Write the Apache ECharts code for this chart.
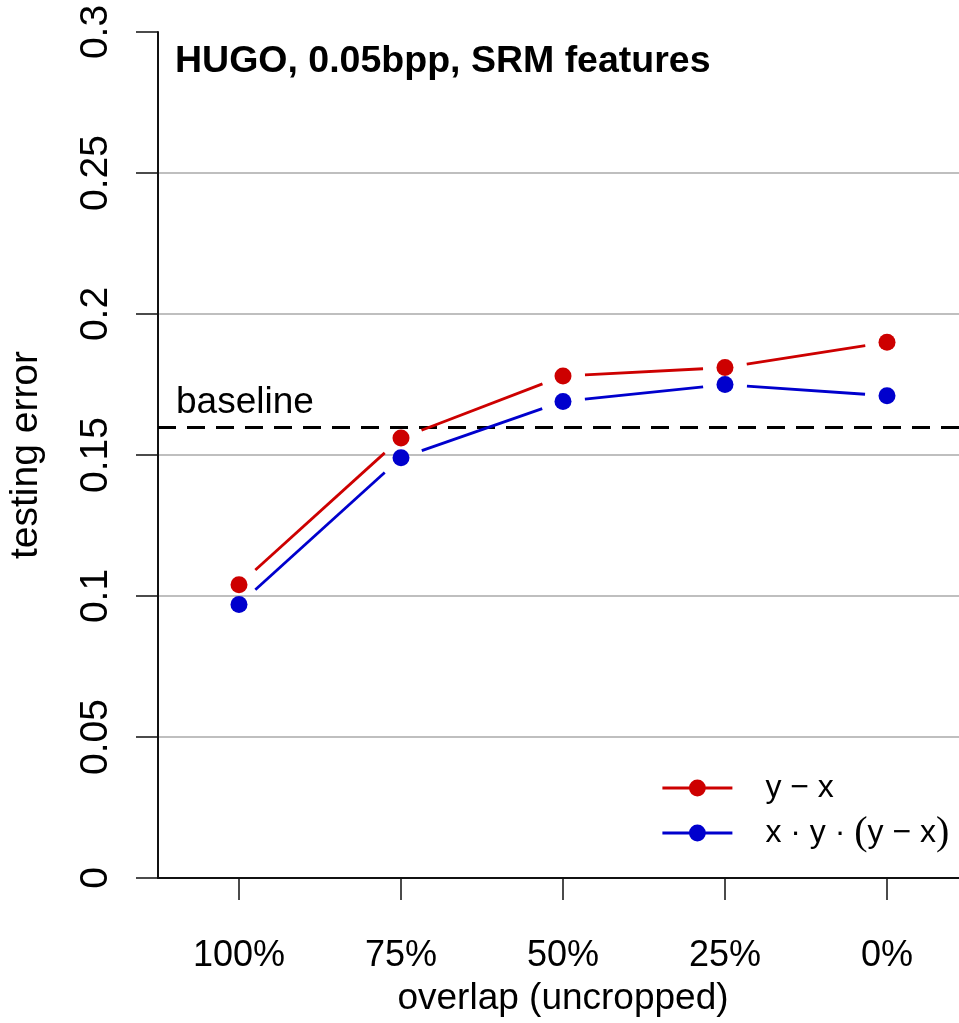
<!DOCTYPE html>
<html>
<head>
<meta charset="utf-8">
<script src="https://cdn.jsdelivr.net/npm/echarts@6/dist/echarts.min.js"></script>
<style>
  html, body { margin: 0; padding: 0; background: #fff; }
  #chart { width: 959px; height: 1023px; }
</style>
</head>
<body>
<div id="chart"></div>
<script>
// Testing error versus crop overlap, HUGO at 0.05 bpp with SRM features
const categories = ['100%', '75%', '50%', '25%', '0%'];
const errYminusX = [0.104, 0.156, 0.178, 0.181, 0.190];
const errXYYminusX = [0.097, 0.149, 0.169, 0.175, 0.171];
const baselineError = 0.16;
const yTicks = [0, 0.05, 0.1, 0.15, 0.2, 0.25, 0.3];

const FONT = "'Liberation Sans', Arial, sans-serif";
const RED = '#cd0000';
const BLUE = '#0000cd';
const SEG_GAP = 22;   // segments stop short of each point (type "b" style)
const SEG_WIDTH = 2.8;

function gappedSegments(values, color) {
  return function (params, api) {
    const i = api.value(0);
    if (i >= values.length - 1) return null;
    const p0 = api.coord([i, values[i]]);
    const p1 = api.coord([i + 1, values[i + 1]]);
    const dx = p1[0] - p0[0], dy = p1[1] - p0[1];
    const len = Math.sqrt(dx * dx + dy * dy);
    if (len <= 2 * SEG_GAP) return null;
    const ux = dx / len, uy = dy / len;
    return {
      type: 'line',
      shape: {
        x1: p0[0] + ux * SEG_GAP, y1: p0[1] + uy * SEG_GAP,
        x2: p1[0] - ux * SEG_GAP, y2: p1[1] - uy * SEG_GAP
      },
      style: { stroke: color, lineWidth: SEG_WIDTH }
    };
  };
}

const chart = echarts.init(document.getElementById('chart'), null, { renderer: 'canvas' });

chart.setOption({
  animation: false,
  backgroundColor: '#ffffff',
  textStyle: { fontFamily: FONT, color: '#000' },
  title: {
    text: 'HUGO, 0.05bpp, SRM features',
    left: 175,
    top: 43,
    padding: 0,
    textStyle: { fontFamily: FONT, fontSize: 37.5, fontWeight: 'bold', color: '#000' }
  },
  grid: {
    left: 158, right: -9, top: 32, bottom: 145,
    containLabel: false,
    outerBoundsMode: 'none'
  },
  legend: {
    orient: 'vertical',
    left: 661,
    top: 772,
    padding: 0,
    itemWidth: 70,
    itemHeight: 21,
    itemGap: 9,
    selectedMode: false,
    textStyle: {
      fontFamily: FONT, fontSize: 32, color: '#000',
      padding: [0, 0, 0, 28],
      rich: {
        p: { fontFamily: "'Liberation Serif', 'Times New Roman', serif", fontSize: 40, color: '#000' }
      }
    },
    formatter: function (name) {
      if (name === 'x · y · (y − x)') return 'x · y · {p|(}y − x{p|)}';
      return name;
    },
    data: [
      { name: 'y − x', lineStyle: { color: RED, width: SEG_WIDTH, opacity: 1 }, itemStyle: { color: RED } },
      { name: 'x · y · (y − x)', lineStyle: { color: BLUE, width: SEG_WIDTH, opacity: 1 }, itemStyle: { color: BLUE } }
    ]
  },
  xAxis: {
    type: 'category',
    data: categories,
    boundaryGap: true,
    name: 'overlap (uncropped)',
    nameLocation: 'middle',
    nameGap: 102,
    nameTextStyle: { fontFamily: FONT, fontSize: 37, color: '#000' },
    axisLine: { show: true, lineStyle: { color: '#111', width: 2 } },
    axisTick: { show: true, alignWithLabel: true, length: 22, lineStyle: { color: '#111', width: 1.5 } },
    axisLabel: { fontFamily: FONT, fontSize: 36, color: '#000', margin: 60 },
    splitLine: { show: false }
  },
  yAxis: {
    type: 'value',
    min: yTicks[0],
    max: yTicks[yTicks.length - 1],
    interval: 0.05,
    name: 'testing error',
    nameLocation: 'middle',
    nameGap: 112,
    nameTextStyle: { fontFamily: FONT, fontSize: 39, color: '#000' },
    axisLine: { show: true, lineStyle: { color: '#111', width: 2 } },
    axisTick: { show: true, length: 22, lineStyle: { color: '#111', width: 1.5 } },
    axisLabel: {
      fontFamily: FONT, fontSize: 39, color: '#000', rotate: 90, margin: 42,
      formatter: function (v) { return String(+v.toFixed(2)); }
    },
    splitLine: {
      show: true, showMinLine: false, showMaxLine: false,
      lineStyle: { color: '#aaaaaa', width: 1.5 }
    }
  },
  series: [
    {
      name: 'y − x segments',
      type: 'custom',
      renderItem: gappedSegments(errYminusX, RED),
      data: errYminusX.map((v, i) => [i, v]),
      encode: { x: 0, y: 1 },
      z: 3,
      silent: true
    },
    {
      name: 'x · y · (y − x) segments',
      type: 'custom',
      renderItem: gappedSegments(errXYYminusX, BLUE),
      data: errXYYminusX.map((v, i) => [i, v]),
      encode: { x: 0, y: 1 },
      z: 3,
      silent: true
    },
    {
      name: 'y − x',
      type: 'line',
      data: errYminusX,
      symbol: 'circle',
      symbolSize: 17,
      showSymbol: true,
      showAllSymbol: true,
      lineStyle: { opacity: 0, width: 0, color: RED },
      itemStyle: { color: RED, borderWidth: 0 },
      z: 4,
      markLine: {
        silent: true,
        symbol: 'none',
        data: [{ yAxis: baselineError }],
        lineStyle: { type: [18, 11], color: '#000', width: 3 },
        label: {
          show: true,
          position: 'insideStartTop',
          formatter: 'baseline',
          fontFamily: FONT,
          fontSize: 37,
          color: '#000',
          distance: [18, 6]
        },
        z: 2
      }
    },
    {
      name: 'x · y · (y − x)',
      type: 'line',
      data: errXYYminusX,
      symbol: 'circle',
      symbolSize: 17,
      showSymbol: true,
      showAllSymbol: true,
      lineStyle: { opacity: 0, width: 0, color: BLUE },
      itemStyle: { color: BLUE, borderWidth: 0 },
      z: 4
    }
  ]
});
</script>
</body>
</html>
